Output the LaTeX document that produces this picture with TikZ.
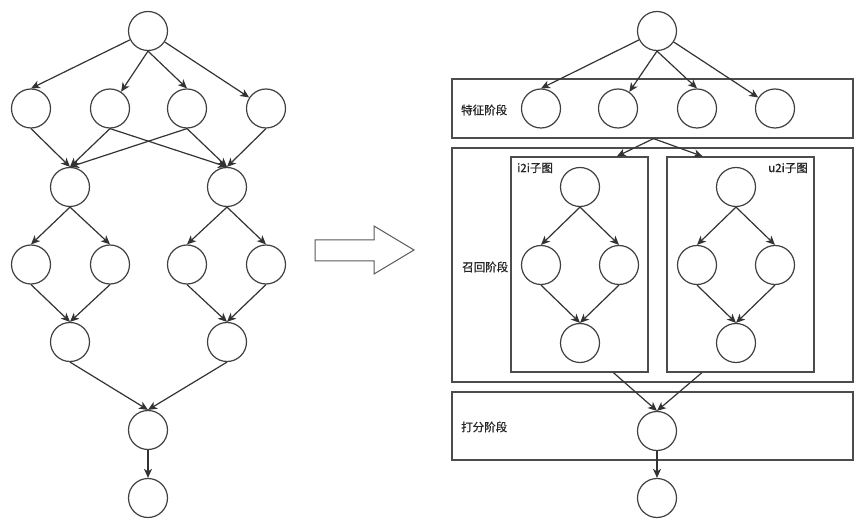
\documentclass[tikz,border=0pt]{standalone}
\usepackage{fontspec}
\newfontfamily\cjk[FakeBold=0.8]{Noto Sans CJK SC}
\usetikzlibrary{arrows.meta,calc}
\begin{document}
\begin{tikzpicture}[x=1pt,y=-1pt,
  nd/.style={circle,draw=black!75,line width=1.2pt,minimum size=39pt,inner sep=0pt},
  box/.style={rectangle,draw=black!70,line width=1.2pt,inner sep=0pt},
  arr/.style={draw=black!80,line width=1.2pt,-{Stealth[length=9pt,width=8pt,inset=2.5pt]}},
  lbl/.style={font=\cjk\fontsize{11.5}{13}\selectfont,text=black!85,inner sep=0pt},
  bigarrow/.style={draw=black!65,line width=1pt,fill=white,line join=miter}]
\useasboundingbox[fill=white] (0,0) rectangle (865,529);

% ---------------- left graph ----------------
\node[nd] (L0) at (148,31) {};
\node[nd] (L11) at (31,108.5) {};
\node[nd] (L12) at (110,108.5) {};
\node[nd] (L13) at (187,108.5) {};
\node[nd] (L14) at (266,108.5) {};
\node[nd] (L21) at (70,187) {};
\node[nd] (L22) at (227,187) {};
\node[nd] (L31) at (31,264.5) {};
\node[nd] (L32) at (110,264.5) {};
\node[nd] (L33) at (187,264.5) {};
\node[nd] (L34) at (266,264.5) {};
\node[nd] (L41) at (70,342) {};
\node[nd] (L42) at (227,342) {};
\node[nd] (L5) at (148,430) {};
\node[nd] (L6) at (148,498) {};

\draw[arr] (L0) -- (L11.north);
\draw[arr] (L0.south) -- (L12);
\draw[arr] (L0.south) -- (L13.north);
\draw[arr] (L0) -- (L14);
\draw[arr] (L11.south) -- (L21.north);
\draw[arr] (L12.south) -- (L21.north);
\draw[arr] (L12.south) -- (L22.north);
\draw[arr] (L13.south) -- (L21.north);
\draw[arr] (L13.south) -- (L22.north);
\draw[arr] (L14.south) -- (L22.north);
\draw[arr] (L21.south) -- (L31.north);
\draw[arr] (L21.south) -- (L32.north);
\draw[arr] (L22.south) -- (L33.north);
\draw[arr] (L22.south) -- (L34.north);
\draw[arr] (L31.south) -- (L41.north);
\draw[arr] (L32.south) -- (L41.north);
\draw[arr] (L33.south) -- (L42.north);
\draw[arr] (L34.south) -- (L42.north);
\draw[arr] (L41.south) -- (L5.north);
\draw[arr] (L42.south) -- (L5.north);
\draw[arr] (L5.south) -- (L6.north);

% ---------------- big arrow ----------------
\draw[bigarrow] (315,240) -- (374,240) -- (374,226) -- (414,250) -- (374,274) -- (374,261) -- (315,261) -- cycle;

% ---------------- right graph ----------------
\node[box,minimum width=401pt,minimum height=59pt] (feat) at (652.5,108.5) {};
\node[box,minimum width=401pt,minimum height=234pt] (recall) at (652.5,265) {};
\node[box,minimum width=137pt,minimum height=215pt] (i2i) at (579.5,264.5) {};
\node[box,minimum width=147pt,minimum height=215pt] (u2i) at (740.5,264.5) {};
\node[box,minimum width=401pt,minimum height=68pt] (score) at (652.5,426) {};

\node[lbl,anchor=west] (tf) at (461,110) {特征阶段};
\node[lbl,anchor=west] (tr) at (462,267) {召回阶段};
\node[lbl,anchor=west] (ts) at (461,427) {打分阶段};
\node[lbl,anchor=west] (ti) at (517,168) {i2i子图};
\node[lbl,anchor=east] (tu) at (808,168) {u2i子图};

\node[nd] (R0) at (657,31) {};
\node[nd] (R11) at (541,108.5) {};
\node[nd] (R12) at (618,108.5) {};
\node[nd] (R13) at (697,108.5) {};
\node[nd] (R14) at (775,108.5) {};

\node[nd] (I1) at (580,187) {};
\node[nd] (I2) at (541,265) {};
\node[nd] (I3) at (619,265) {};
\node[nd] (I4) at (580,343) {};

\node[nd] (U1) at (736,187) {};
\node[nd] (U2) at (697,265) {};
\node[nd] (U3) at (775,265) {};
\node[nd] (U4) at (736,343) {};

\node[nd] (S) at (657,431) {};
\node[nd] (F) at (657,498) {};

\draw[arr] (R0) -- (R11.north);
\draw[arr] (R0.south) -- (R12);
\draw[arr] (R0.south) -- (R13.north);
\draw[arr] (R0) -- (R14);

\coordinate (featout) at ($(feat.south)+(1,0)$);
\coordinate (i2iin) at ($(i2i.north west)!0.77!(i2i.north east)$);
\coordinate (u2iin) at ($(u2i.north west)!0.245!(u2i.north east)$);
\coordinate (i2iout) at ($(i2i.south west)!0.745!(i2i.south east)$);
\coordinate (u2iout) at ($(u2i.south west)!0.24!(u2i.south east)$);
\draw[arr] (featout) -- (i2iin);
\draw[arr] (featout) -- (u2iin);

\draw[arr] (I1.south) -- (I2.north);
\draw[arr] (I1.south) -- (I3.north);
\draw[arr] (I2.south) -- (I4.north);
\draw[arr] (I3.south) -- (I4.north);
\draw[arr] (U1.south) -- (U2.north);
\draw[arr] (U1.south) -- (U3.north);
\draw[arr] (U2.south) -- (U4.north);
\draw[arr] (U3.south) -- (U4.north);

\draw[arr] (i2iout) -- (S.north);
\draw[arr] (u2iout) -- (S.north);
\draw[arr] (S.south) -- (F.north);
\end{tikzpicture}
\end{document}
